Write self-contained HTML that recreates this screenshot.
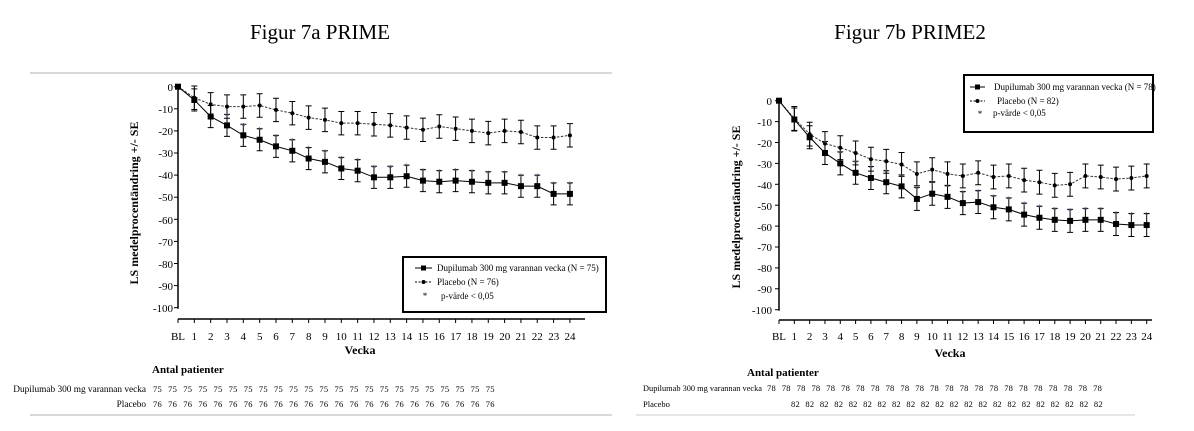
<!DOCTYPE html>
<html><head><meta charset="utf-8">
<style>
html,body{margin:0;padding:0;background:#fff;}
svg{display:block;font-family:"Liberation Serif",serif;}
</style></head>
<body>
<svg id="s" width="1194" height="431" viewBox="0 0 1194 431" xmlns="http://www.w3.org/2000/svg">
<text x="320" y="39" font-size="21" text-anchor="middle">Figur 7a PRIME</text>
<text x="910" y="39" font-size="21" text-anchor="middle">Figur 7b PRIME2</text>
<line x1="30" y1="73" x2="612" y2="73" stroke="#ccc" stroke-width="1.5"/>
<line x1="30" y1="415" x2="612" y2="415" stroke="#ccc" stroke-width="1.5"/>
<line x1="636" y1="415" x2="1135" y2="415" stroke="#ddd" stroke-width="1.5"/>

<!-- chart 1 axes -->
<g font-size="11" text-anchor="end">
<text x="173" y="91">0</text><text x="173" y="113">-10</text><text x="173" y="135">-20</text><text x="173" y="157">-30</text><text x="173" y="179">-40</text><text x="173" y="201">-50</text><text x="173" y="224">-60</text><text x="173" y="246">-70</text><text x="173" y="268">-80</text><text x="173" y="290">-90</text><text x="173" y="312">-100</text>
</g>
<text transform="translate(138,203) rotate(-90)" font-size="12" font-weight="bold" text-anchor="middle">LS medelprocentändring +/- SE</text>
<text x="360" y="354" font-size="12" font-weight="bold" text-anchor="middle">Vecka</text>
<g font-size="11" text-anchor="middle">
<text x="178" y="340">BL</text><text x="194.3" y="340">1</text><text x="210.7" y="340">2</text><text x="227" y="340">3</text><text x="243.3" y="340">4</text><text x="259.7" y="340">5</text><text x="276" y="340">6</text><text x="292.3" y="340">7</text><text x="308.7" y="340">8</text><text x="325" y="340">9</text><text x="341.3" y="340">10</text><text x="357.7" y="340">11</text><text x="374" y="340">12</text><text x="390.3" y="340">13</text><text x="406.7" y="340">14</text><text x="423" y="340">15</text><text x="439.3" y="340">16</text><text x="455.7" y="340">17</text><text x="472" y="340">18</text><text x="488.3" y="340">19</text><text x="504.7" y="340">20</text><text x="521" y="340">21</text><text x="537.3" y="340">22</text><text x="553.7" y="340">23</text><text x="570" y="340">24</text>
</g>
<rect x="403" y="257" width="203" height="55" fill="#fff" stroke="#000" stroke-width="2"/>
<line x1="415" y1="268" x2="432" y2="268" stroke="#000"/><rect x="421" y="265.5" width="5" height="5"/>
<text x="437" y="271" font-size="9">Dupilumab 300 mg varannan vecka (N = 75)</text>
<line x1="415" y1="282" x2="432" y2="282" stroke="#000" stroke-dasharray="2,1.5"/><circle cx="423.5" cy="282" r="2"/>
<text x="437" y="285" font-size="9">Placebo (N = 76)</text>
<text x="425" y="299" font-size="9" text-anchor="middle">*</text>
<text x="441" y="299" font-size="9">p-värde &lt; 0,05</text>

<!-- chart 2 axes -->
<g font-size="11" text-anchor="end">
<text x="772" y="105">0</text><text x="772" y="126">-10</text><text x="772" y="147">-20</text><text x="772" y="168">-30</text><text x="772" y="189">-40</text><text x="772" y="210">-50</text><text x="772" y="231">-60</text><text x="772" y="251">-70</text><text x="772" y="272">-80</text><text x="772" y="293">-90</text><text x="772" y="314">-100</text>
</g>
<text transform="translate(740,207) rotate(-90)" font-size="12" font-weight="bold" text-anchor="middle">LS medelprocentändring +/- SE</text>
<text x="950" y="357" font-size="12" font-weight="bold" text-anchor="middle">Vecka</text>
<g font-size="11" text-anchor="middle">
<text x="779" y="340">BL</text><text x="794.3" y="340">1</text><text x="809.6" y="340">2</text><text x="825" y="340">3</text><text x="840.3" y="340">4</text><text x="855.6" y="340">5</text><text x="870.9" y="340">6</text><text x="886.2" y="340">7</text><text x="901.6" y="340">8</text><text x="916.9" y="340">9</text><text x="932.2" y="340">10</text><text x="947.5" y="340">11</text><text x="962.8" y="340">12</text><text x="978.2" y="340">13</text><text x="993.5" y="340">14</text><text x="1008.8" y="340">15</text><text x="1024.1" y="340">16</text><text x="1039.4" y="340">17</text><text x="1054.8" y="340">18</text><text x="1070.1" y="340">19</text><text x="1085.4" y="340">20</text><text x="1100.7" y="340">21</text><text x="1116" y="340">22</text><text x="1131.4" y="340">23</text><text x="1146.7" y="340">24</text>
</g>
<rect x="964" y="75" width="189" height="57" fill="#fff" stroke="#000" stroke-width="2"/>
<line x1="970" y1="87" x2="985" y2="87" stroke="#000"/><rect x="975" y="84.5" width="5" height="5"/>
<text x="994" y="90" font-size="9">Dupilumab 300 mg varannan vecka (N = 78)</text>
<line x1="970" y1="101" x2="985" y2="101" stroke="#000" stroke-dasharray="2,1.5"/><circle cx="977.5" cy="101" r="2"/>
<text x="997" y="104" font-size="9">Placebo (N = 82)</text>
<text x="980" y="117" font-size="9" text-anchor="middle">*</text>
<text x="993" y="116" font-size="9">p-värde &lt; 0,05</text>

<!-- tables -->
<text x="152" y="373" font-size="11" font-weight="bold">Antal patienter</text>
<text x="146" y="392" font-size="9.3" text-anchor="end">Dupilumab 300 mg varannan vecka</text>
<text x="146" y="407" font-size="9.3" text-anchor="end">Placebo</text>
<text x="153" y="392" font-size="8.5" word-spacing="3.9" letter-spacing="0.2">75 75 75 75 75 75 75 75 75 75 75 75 75 75 75 75 75 75 75 75 75 75 75</text>
<text x="153" y="407" font-size="8.5" word-spacing="3.9" letter-spacing="0.2">76 76 76 76 76 76 76 76 76 76 76 76 76 76 76 76 76 76 76 76 76 76 76</text>

<text x="747" y="376" font-size="11" font-weight="bold">Antal patienter</text>
<text x="643" y="391" font-size="8.5" textLength="119" lengthAdjust="spacingAndGlyphs">Dupilumab 300 mg varannan vecka</text>
<text x="643" y="407" font-size="8.5">Placebo</text>
<text x="767" y="391" font-size="8.5" word-spacing="3.6" letter-spacing="0.2">78 78 78 78 78 78 78 78 78 78 78 78 78 78 78 78 78 78 78 78 78 78 78</text>
<text x="791" y="407" font-size="8.5" word-spacing="3.2" letter-spacing="0.2">82 82 82 82 82 82 82 82 82 82 82 82 82 82 82 82 82 82 82 82 82 82</text>
<g id="g"></g>
</svg>
<script>
var NS="http://www.w3.org/2000/svg",g=document.getElementById("g");
function el(t,a){var e=document.createElementNS(NS,t);for(var k in a)e.setAttribute(k,a[k]);g.appendChild(e);return e;}
function chart(c){
 var X=function(i){return c.x0+i*c.dx},Y=function(v){return c.y0-v*c.sy};
 el("line",{x1:c.x0,y1:c.y0-2,x2:c.x0,y2:Y(-100)+1,stroke:"#000","stroke-width":1.5});
 el("line",{x1:c.x0,y1:c.ax,x2:c.xe,y2:c.ax,stroke:"#000","stroke-width":1.5});
 for(var v=0;v>=-100;v-=10)el("line",{x1:c.x0-4,y1:Y(v),x2:c.x0,y2:Y(v),stroke:"#000"});
 for(var i=0;i<=24;i++)el("line",{x1:X(i),y1:c.ax,x2:X(i),y2:c.ax+4,stroke:"#000"});
 [[c.p,"2.5,1.5",c.pse],[c.d,"",c.dse]].forEach(function(s,k){
  var pts=s[0].map(function(v,i){return X(i)+","+Y(v)}).join(" ");
  el("polyline",{points:pts,fill:"none",stroke:k?"#000":"#333","stroke-width":1,"stroke-dasharray":s[1]});
  s[0].forEach(function(v,i){if(!i)return;var e=s[2]*c.sy;
   el("path",{d:"M"+X(i)+" "+(Y(v)-e)+"V"+(Y(v)+e)+"M"+(X(i)-3)+" "+(Y(v)-e)+"h6M"+(X(i)-3)+" "+(Y(v)+e)+"h6",stroke:"#000","stroke-width":1,fill:"none"});});
 });
 c.p.forEach(function(v,i){el("circle",{cx:X(i),cy:Y(v),r:2});});
 c.d.forEach(function(v,i){el("rect",{x:X(i)-3,y:Y(v)-3,width:6,height:6});
  if(i>=3){var t=el("text",{x:X(i),y:Y(v)-c.dse*c.sy+5,"font-size":9,"text-anchor":"middle",fill:"#446"});t.textContent="*";}});
}
chart({x0:178,dx:16.33,y0:86.7,sy:2.21,ax:319,xe:585,
 d:[0,-6,-13.5,-17.5,-22,-24,-27,-29,-32.5,-34,-37,-38,-41,-41,-40.5,-42.5,-43,-42.5,-43,-43.5,-43.5,-45,-45,-48.5,-48.5],dse:5,
 p:[0,-5,-8,-9,-9,-8.5,-10.5,-12,-14,-15,-16.5,-16.5,-17,-17.5,-18.5,-19.5,-18,-19,-20,-21,-20,-20.5,-23,-23,-22],pse:5.3});
chart({x0:779,dx:15.32,y0:100.7,sy:2.09,ax:320,xe:1152,
 d:[0,-9,-17.5,-25,-30,-34.5,-37,-39,-41,-47,-44.5,-46,-49,-48.5,-51,-52,-54.5,-56,-57,-57.5,-57,-57,-59,-59.5,-59.5],dse:5.5,
 p:[0,-8.5,-16,-20.5,-22.5,-25,-28,-29,-30.5,-35,-33,-35,-36,-34.5,-36.5,-36,-38,-39,-40.5,-40,-36,-36.5,-37.5,-37,-36],pse:5.7});
</script>
</body></html>
